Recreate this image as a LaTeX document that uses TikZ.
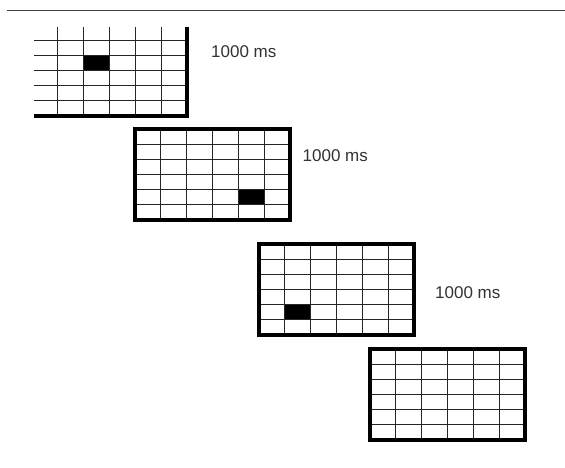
\documentclass[tikz,border=0pt]{standalone}
\usepackage{fontspec}
\setmainfont{Liberation Sans}
\tikzset{
  gridline/.style={line width=1pt, black!85},
  frameborder/.style={line width=3.6pt, black},
  cellfill/.style={fill=black},
  topline/.style={line width=1.2pt, black!75},
  msnote/.style={font=\fontsize{17}{20}\selectfont, text=black!80, anchor=west, inner sep=0pt}
}
\newcommand\stimgrid[2]{%
  \begin{scope}[shift={(#1,#2)}]
    \foreach \i in {1,...,5} {
      \draw[gridline] ({\i*155/6},0) -- ({\i*155/6},91);
      \draw[gridline] (0,{\i*91/6}) -- (155,{\i*91/6});
    }
    \draw[frameborder] (0,0) rectangle (155,91);
  \end{scope}}
\newcommand\stimcell[4]{%
  \fill[cellfill] ({#1+(#3-1)*155/6},{#2+(#4-1)*91/6}) rectangle ++({155/6},{91/6});}
\begin{document}
\begin{tikzpicture}[x=1pt,y=-1pt]
  \useasboundingbox (0,0) rectangle (565,468);
  \fill[white] (0,0) rectangle (565,468);
  % top rule
  \coordinate (tl) at (7,10.7);
  \coordinate (tr) at (565,10.7);
  \draw[topline] (tl) -- (tr);
  % frame 1 (cropped)
  \begin{scope}
    \clip (34,28) rectangle (300,125);
    \stimcell{32}{25}{3}{3}
    \stimgrid{32}{25}
  \end{scope}
  % frame 2
  \stimcell{135}{129}{5}{5}
  \stimgrid{135}{129}
  % frame 3
  \stimcell{259}{244}{2}{5}
  \stimgrid{259}{244}
  % frame 4
  \stimgrid{370}{349}
  % labels
  \node[msnote] (t1) at (211,51.5) {1000 ms};
  \node[msnote] (t2) at (302.5,156) {1000 ms};
  \node[msnote] (t3) at (435,293) {1000 ms};
\end{tikzpicture}
\end{document}
